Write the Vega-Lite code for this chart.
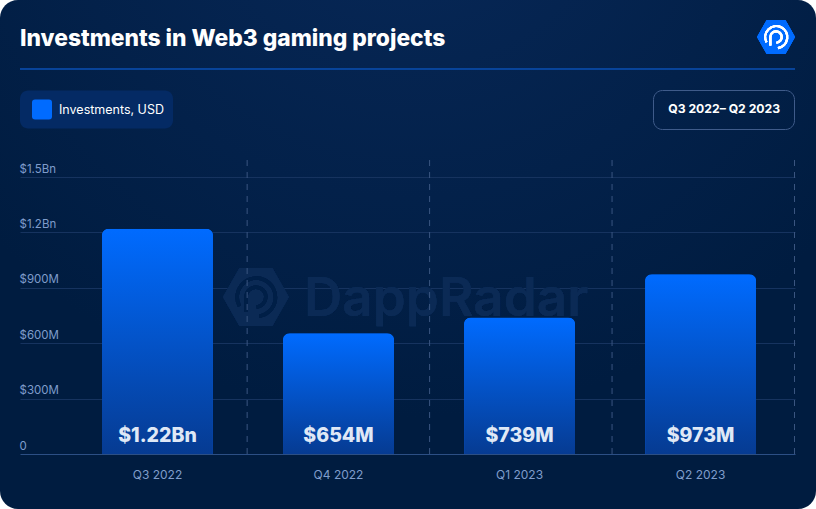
{
  "$schema": "https://vega.github.io/schema/vega-lite/v6.json",
  "width": 816,
  "height": 509,
  "padding": 0,
  "autosize": {"type": "none"},
  "background": "#ffffff",
  "view": {
    "stroke": null,
    "cornerRadius": 18,
    "fill": {
      "gradient": "radial", "x1": 0.5, "y1": 0, "r1": 0, "x2": 0.5, "y2": 0, "r2": 0.7,
      "stops": [{"offset": 0, "color": "#08295a"}, {"offset": 1, "color": "#001c40"}]
    }
  },
  "title": {
    "text": "Investments in Web3 gaming projects",
    "anchor": "start", "frame": "group", "orient": "top",
    "dx": 20, "dy": 51, "offset": 0,
    "font": "Inter", "fontSize": 22.8, "fontWeight": 800, "color": "#ffffff"
  },
  "data": {
    "values": [
      {"quarter": "Q3 2022", "investment": 1220, "label": "$1.22Bn", "series": "Investments, USD", "period": "Q3 2022– Q2 2023"},
      {"quarter": "Q4 2022", "investment": 654, "label": "$654M", "series": "Investments, USD", "period": "Q3 2022– Q2 2023"},
      {"quarter": "Q1 2023", "investment": 739, "label": "$739M", "series": "Investments, USD", "period": "Q3 2022– Q2 2023"},
      {"quarter": "Q2 2023", "investment": 973, "label": "$973M", "series": "Investments, USD", "period": "Q3 2022– Q2 2023"}
    ]
  },
  "resolve": {"scale": {"x": "independent"}},
  "layer": [
    {
      "mark": {"type": "text", "font": "Inter", "fontSize": 53, "fontWeight": 600, "align": "center", "baseline": "middle", "color": "#0b2a55"},
      "encoding": {
        "x": {"datum": "Q4 2022", "bandPosition": 1.47, "axis": null, "scale": {"type": "band", "domain": ["Q3 2022", "Q4 2022", "Q1 2023", "Q2 2023"], "range": [20, 795], "paddingInner": 0.387, "paddingOuter": 0.334, "align": 0.678}},
        "y": {"datum": 835, "type": "quantitative", "scale": {"domain": [0, 1500], "range": [454, 177], "nice": false, "zero": true}},
        "text": {"value": "DappRadar"}
      }
    },
    {
      "mark": {"type": "point", "filled": true, "size": 4356, "opacity": 1, "color": "#0b2a55", "shape": "M-1 0L-0.5 -0.88L0.5 -0.88L1 0L0.5 0.88L-0.5 0.88Z"},
      "encoding": {
        "x": {"datum": "Q3 2022", "bandPosition": 1.387, "axis": null, "scale": {"type": "band", "domain": ["Q3 2022", "Q4 2022", "Q1 2023", "Q2 2023"], "range": [20, 795], "paddingInner": 0.387, "paddingOuter": 0.334, "align": 0.678}},
        "y": {"datum": 850, "type": "quantitative"}
      }
    },
    {
      "mark": {"type": "point", "filled": false, "size": 4356, "strokeWidth": 3.5, "color": "#001f47", "opacity": 1, "shape": "M0.1 0.58A0.58 0.58 0 1 0 -0.5 0.28M-0.3 0.45L-0.3 0A0.3 0.3 0 1 1 0.02 0.3"},
      "encoding": {
        "x": {"datum": "Q3 2022", "bandPosition": 1.387, "axis": null, "scale": {"type": "band", "domain": ["Q3 2022", "Q4 2022", "Q1 2023", "Q2 2023"], "range": [20, 795], "paddingInner": 0.387, "paddingOuter": 0.334, "align": 0.678}},
        "y": {"datum": 850, "type": "quantitative"}
      }
    },
    {
      "mark": {"type": "rule", "strokeDash": [6, 6], "strokeWidth": 1, "color": "#3a5580"},
      "encoding": {
        "x": {"field": "quarter", "type": "ordinal", "sort": null, "bandPosition": 1, "axis": null, "scale": {"type": "band", "domain": ["Q3 2022", "Q4 2022", "Q1 2023", "Q2 2023"], "range": [64.7, 794.5], "paddingInner": 0, "paddingOuter": 0}},
        "y": {"datum": 0, "type": "quantitative"},
        "y2": {"datum": 1592}
      }
    },
    {
      "mark": {"type": "rule", "strokeWidth": 1, "color": "#0a479f"},
      "encoding": {
        "x": {"datum": 0, "type": "quantitative", "axis": null, "scale": {"domain": [0, 1], "range": [20, 795]}},
        "x2": {"datum": 1},
        "y": {"datum": 2085, "type": "quantitative"}
      }
    },
    {
      "mark": {
        "type": "bar", "width": 111, "cornerRadiusTopLeft": 7, "cornerRadiusTopRight": 7
      },
      "encoding": {
        "x": {
          "field": "quarter", "type": "ordinal", "sort": null,
          "scale": {"type": "band", "domain": ["Q3 2022", "Q4 2022", "Q1 2023", "Q2 2023"], "range": [20, 795], "paddingInner": 0.387, "paddingOuter": 0.334, "align": 0.678},
          "axis": {
            "title": null, "orient": "bottom", "labelAngle": 0, "ticks": false, "domain": false, "grid": false,
            "labelPadding": -40, "labelFont": "Inter", "labelFontSize": 12, "labelColor": "#7f9ccb"
          }
        },
        "y": {
          "field": "investment", "type": "quantitative",
          "scale": {"domain": [0, 1500], "range": [454, 177], "nice": false, "zero": true},
          "axis": {
            "title": null, "orient": "left", "values": [0, 300, 600, 900, 1200, 1500],
            "labelExpr": "datum.value == 0 ? '0' : datum.value >= 1000 ? '$' + format(datum.value / 1000, '.1f') + 'Bn' : '$' + datum.value + 'M'",
            "ticks": false, "domain": false, "grid": true, "zindex": 0,
            "gridColor": {"condition": {"test": "datum.value == 0", "value": "#2c4f85"}, "value": "#16335f"},
            "labelAlign": "left", "labelPadding": -19, "labelOffset": -8,
            "labelFont": "Inter", "labelFontSize": 11.5, "labelColor": "#7f9ccb"
          }
        },
        "color": {
          "field": "series", "type": "nominal",
          "scale": {"domain": ["Investments, USD"], "range": ["#006bff"]},
          "legend": {
            "orient": "none", "legendX": 20, "legendY": 90.5, "title": null, "padding": 9,
            "fillColor": "#042a64", "cornerRadius": 8,
            "symbolType": "M-0.7 -1H0.7Q1 -1 1 -0.7V0.7Q1 1 0.7 1H-0.7Q-1 1 -1 0.7V-0.7Q-1 -1 -0.7 -1Z",
            "symbolSize": 400, "symbolStrokeWidth": 0, "symbolOffset": 3,
            "labelFont": "Inter", "labelFontSize": 12.5, "labelColor": "#ffffff", "labelOffset": 7,
            "labelExpr": "datum.label + '\u2002'"
          }
        },
        "opacity": {
          "field": "period", "type": "nominal",
          "scale": {"domain": ["Q3 2022– Q2 2023"], "range": [1]},
          "legend": {
            "orient": "none", "legendX": 653, "legendY": 90, "title": null, "padding": 13,
            "strokeColor": "#3f5b8a", "cornerRadius": 9,
            "symbolSize": 0, "symbolOpacity": 0, "symbolStrokeWidth": 0,
            "labelFont": "Inter", "labelFontSize": 12.2, "labelFontWeight": 700, "labelColor": "#ffffff", "labelOffset": -10
          }
        }
      }
    },
    {
      "mark": {
        "type": "bar", "width": 111, "cornerRadiusTopLeft": 7, "cornerRadiusTopRight": 7,
        "color": {
          "gradient": "linear", "x1": 0, "y1": 0, "x2": 0, "y2": 1,
          "stops": [{"offset": 0, "color": "#006bff"}, {"offset": 1, "color": "#063b92"}]
        }
      },
      "encoding": {
        "x": {"field": "quarter", "type": "ordinal", "sort": null, "axis": null, "scale": {"type": "band", "domain": ["Q3 2022", "Q4 2022", "Q1 2023", "Q2 2023"], "range": [20, 795], "paddingInner": 0.387, "paddingOuter": 0.334, "align": 0.678}},
        "y": {"field": "investment", "type": "quantitative"}
      }
    },
    {
      "mark": {"type": "text", "font": "Inter", "fontSize": 19.5, "fontWeight": 800, "color": "#dfe8f6", "dy": -18},
      "encoding": {
        "x": {"field": "quarter", "type": "ordinal", "sort": null, "axis": null, "scale": {"type": "band", "domain": ["Q3 2022", "Q4 2022", "Q1 2023", "Q2 2023"], "range": [20, 795], "paddingInner": 0.387, "paddingOuter": 0.334, "align": 0.678}},
        "y": {"datum": 0, "type": "quantitative"},
        "text": {"field": "label"}
      }
    },
    {
      "mark": {"type": "point", "filled": true, "size": 1444, "opacity": 1, "color": "#006bff", "shape": "M-1 0L-0.5 -0.88L0.5 -0.88L1 0L0.5 0.88L-0.5 0.88Z"},
      "encoding": {
        "x": {"datum": "Q2 2023", "bandPosition": 1.18, "axis": null, "scale": {"type": "band", "domain": ["Q3 2022", "Q4 2022", "Q1 2023", "Q2 2023"], "range": [20, 795], "paddingInner": 0.387, "paddingOuter": 0.334, "align": 0.678}},
        "y": {"datum": 2258, "type": "quantitative"}
      }
    },
    {
      "mark": {"type": "point", "filled": false, "size": 1444, "strokeWidth": 2.2, "color": "#ffffff", "opacity": 1, "shape": "M0.1 0.58A0.58 0.58 0 1 0 -0.5 0.28M-0.3 0.45L-0.3 0A0.3 0.3 0 1 1 0.02 0.3"},
      "encoding": {
        "x": {"datum": "Q2 2023", "bandPosition": 1.18, "axis": null, "scale": {"type": "band", "domain": ["Q3 2022", "Q4 2022", "Q1 2023", "Q2 2023"], "range": [20, 795], "paddingInner": 0.387, "paddingOuter": 0.334, "align": 0.678}},
        "y": {"datum": 2258, "type": "quantitative"}
      }
    }
  ]
}
